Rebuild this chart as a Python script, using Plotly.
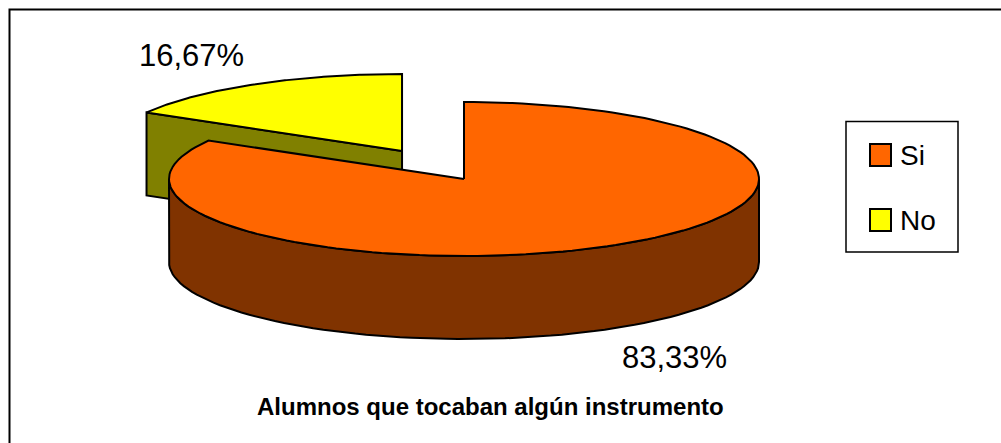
import numpy as np
import plotly.graph_objects as go

# datos
labels = ["Si", "No"]
values = [83.33, 16.67]
top_colors = ["#FF6600", "#FFFF00"]
side_colors = ["#803300", "#808000"]
explode = [0.0, 0.42]
title_text = "Alumnos que tocaban algún instrumento"

FONT = "Arial, Liberation Sans, sans-serif"
W, H = 1001, 443

# geometria del pastel 3D (en pixeles de la figura)
cx, cy = 464, 179
rx, ry = 295, 77
depth = 83


def rim(a, ox, oy, dz=0.0):
    t = np.radians(a)
    return ox + rx * np.sin(t), oy - ry * np.cos(t) + dz


def poly(xs, ys, fill):
    return go.Scatter(x=xs, y=ys, mode="lines", fill="toself", fillcolor=fill,
                      line=dict(color="black", width=2), hoverinfo="skip",
                      showlegend=False)


fig = go.Figure()

bounds = np.cumsum([0] + values) / sum(values) * 360
mids = [(bounds[i] + bounds[i + 1]) / 2 for i in range(len(values))]

# las porciones del fondo se pintan primero
order = sorted(range(len(values)), key=lambda i: -np.cos(np.radians(mids[i])))

annotations = []
for i in order:
    a0, a1 = bounds[i], bounds[i + 1]
    mt = np.radians(mids[i])
    ox = cx + explode[i] * rx * np.sin(mt)
    oy = cy - explode[i] * ry * np.cos(mt)

    # cara curva (solo la mitad frontal es visible)
    lo, hi = max(a0, 90), min(a1, 270)
    if lo < hi:
        arc = np.linspace(lo, hi, 80)
        tx, ty = rim(arc, ox, oy)
        bx, by = rim(arc[::-1], ox, oy, depth)
        fig.add_trace(poly(list(tx) + list(bx) + [tx[0]],
                           list(ty) + list(by) + [ty[0]], side_colors[i]))

    # caras radiales
    for a, sgn in ((a0, -1), (a1, 1)):
        if sgn * np.sin(np.radians(a)) > 1e-6:
            px, py = rim(a, ox, oy)
            fig.add_trace(poly([ox, px, px, ox, ox],
                               [oy, py, py + depth, oy + depth, oy],
                               side_colors[i]))

    # cara superior
    arc = np.linspace(a0, a1, 160)
    tx, ty = rim(arc, ox, oy)
    fig.add_trace(poly([ox] + list(tx) + [ox], [oy] + list(ty) + [oy], top_colors[i]))

    # etiqueta de porcentaje
    lx, ly = rim(mids[i], ox, oy)
    lx = ox + 1.43 * (lx - ox)
    ly = oy + 1.43 * (ly - oy) + (depth if np.cos(mt) < 0 else 0)
    annotations.append(dict(x=lx, y=ly, xref="x", yref="y", showarrow=False,
                            text=f"{values[i]:.2f}".replace(".", ",") + "%",
                            font=dict(family=FONT, size=31, color="black"),
                            xanchor="center", yanchor="middle"))

annotations.append(dict(x=490, y=406, xref="x", yref="y", showarrow=False,
                        text="<b>" + title_text + "</b>",
                        font=dict(family=FONT, size=24, color="black"),
                        xanchor="center", yanchor="middle"))

# marco y leyenda
shapes = [
    dict(type="rect", xref="x", yref="y", x0=9.5, y0=9.5, x1=W + 20, y1=H + 20,
         line=dict(color="black", width=2), fillcolor="rgba(0,0,0,0)", layer="below"),
    dict(type="rect", xref="x", yref="y", x0=846, y0=121.5, x1=958, y1=252,
         line=dict(color="black", width=1.5), fillcolor="white"),
]
for k, name in enumerate(labels):
    yc = 155 + k * 65
    shapes.append(dict(type="rect", xref="x", yref="y", x0=870, x1=891,
                       y0=yc - 11, y1=yc + 11, fillcolor=top_colors[k],
                       line=dict(color="black", width=2)))
    annotations.append(dict(x=898, y=yc, xref="x", yref="y", showarrow=False,
                            text=name, xanchor="left", yanchor="middle",
                            font=dict(family=FONT, size=28, color="black")))

fig.update_layout(width=W, height=H, margin=dict(l=0, r=0, t=0, b=0),
                  plot_bgcolor="white", paper_bgcolor="white",
                  shapes=shapes, annotations=annotations, showlegend=False)
fig.update_xaxes(range=[0, W], visible=False, fixedrange=True)
fig.update_yaxes(range=[H, 0], visible=False, fixedrange=True)

# quitar el margen por defecto del body para que la figura empiece en (0, 0)
fig.write_html("out.html", config={"displayModeBar": False},
               post_script="document.body.style.margin='0px';")
